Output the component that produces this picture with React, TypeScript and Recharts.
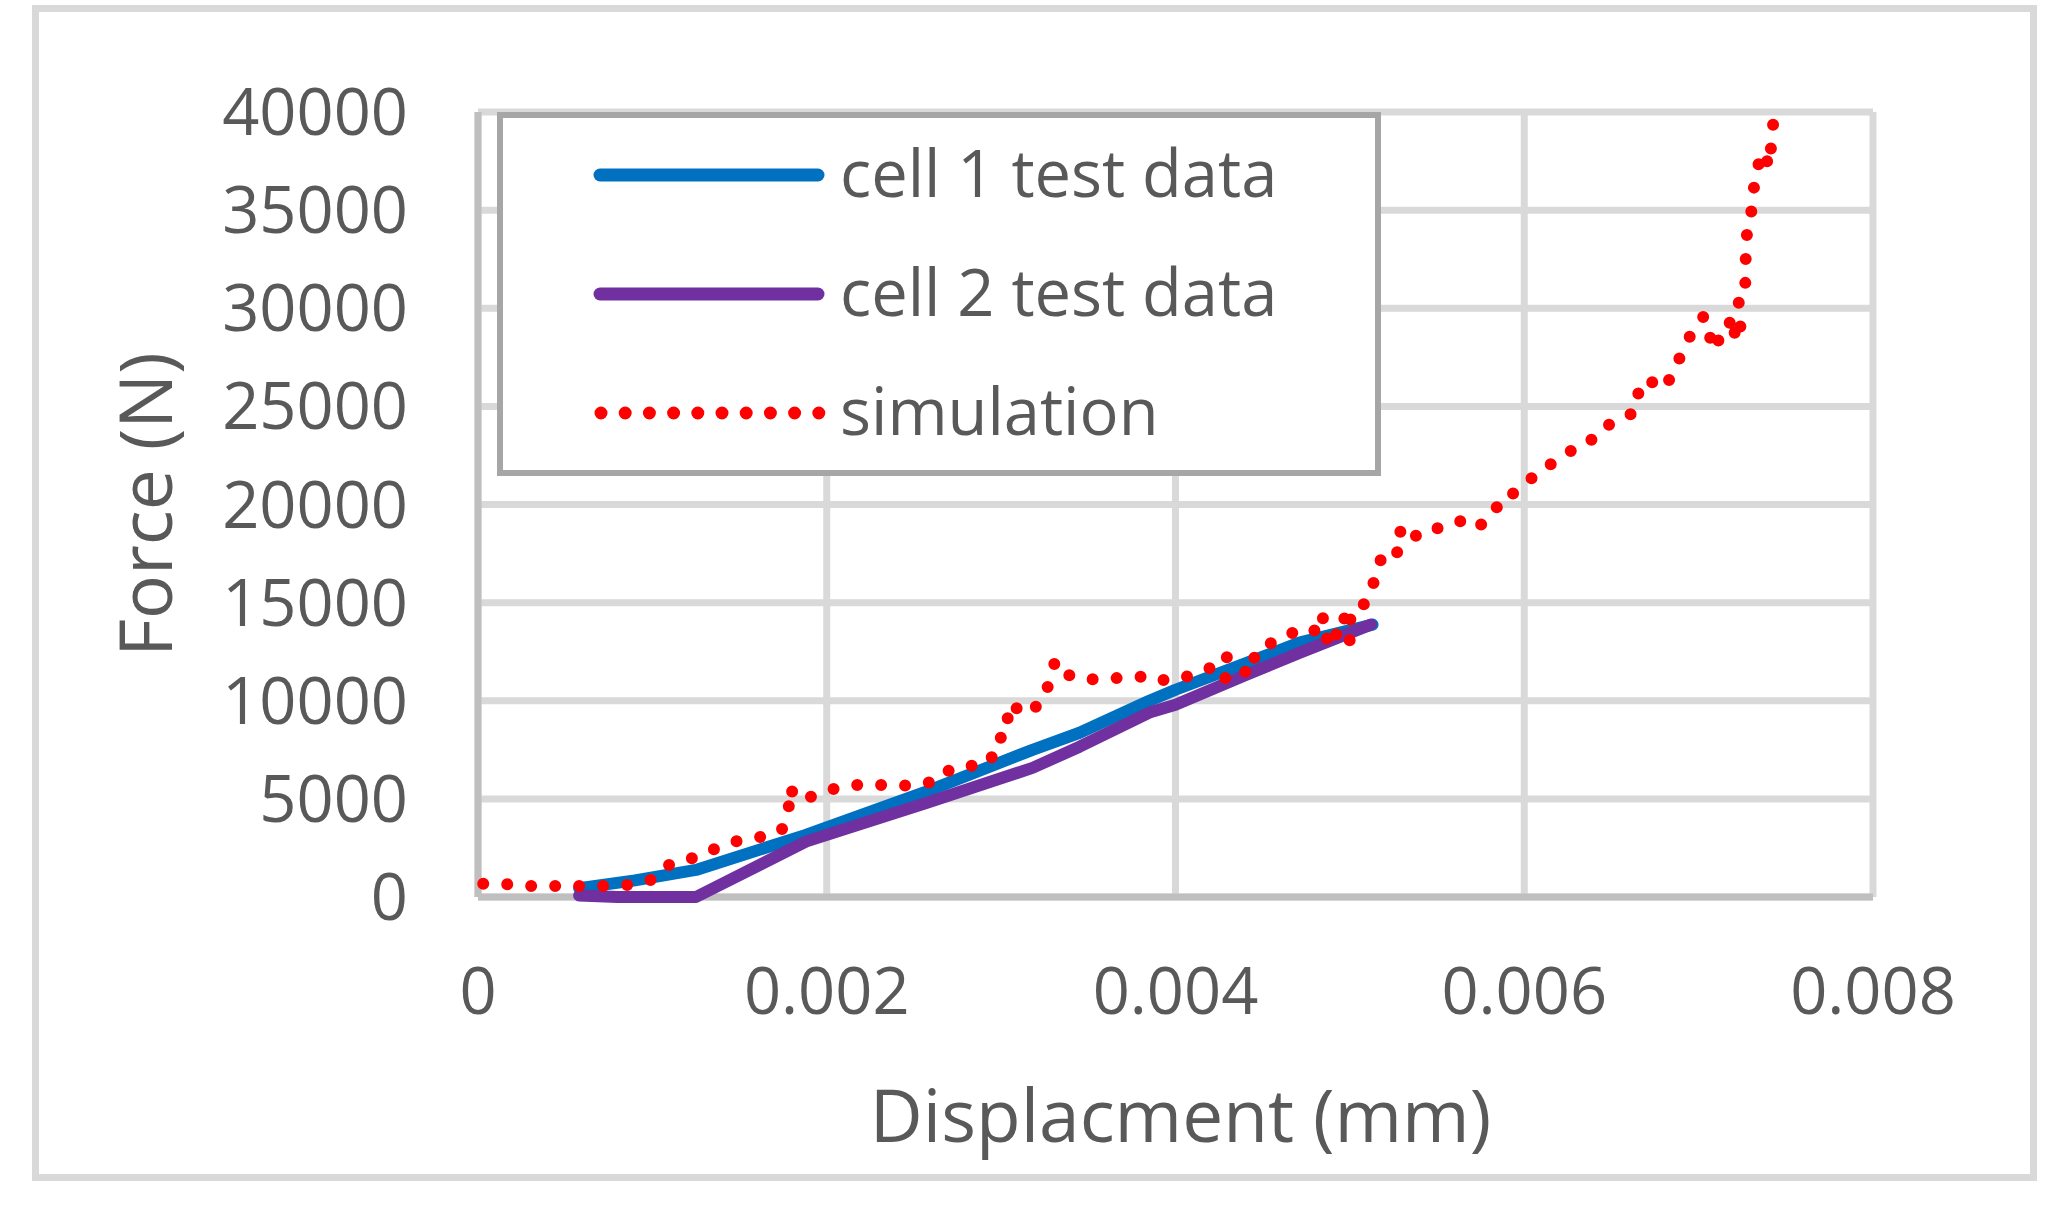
import { LineChart, Line, XAxis, YAxis, CartesianGrid, Legend, Label, ReferenceLine } from 'recharts';

// displacement (mm) / force (N)
const cell1Disp = [0.00058, 0.0009, 0.00125, 0.00188, 0.00257, 0.00318, 0.00345, 0.00385, 0.004, 0.0044, 0.00471, 0.00513];
const cell1Force = [450, 850, 1380, 3160, 5370, 7500, 8370, 10000, 10560, 11900, 12960, 13880];

const cell2Disp = [0.00058, 0.0008, 0.00125, 0.00188, 0.00257, 0.00318, 0.00345, 0.00385, 0.004, 0.0044, 0.00471, 0.00512];
const cell2Force = [80, 0, 0, 2820, 4790, 6580, 7660, 9400, 9800, 11300, 12440, 13880];

const simDisp = [
  0.00003, 0.00009, 0.00017, 0.00031, 0.00045, 0.00058, 0.00072, 0.00086, 0.00099, 0.00107,
  0.00116, 0.00125, 0.00137, 0.00149, 0.00162, 0.00174, 0.00178, 0.00179, 0.00182, 0.00188,
  0.00199, 0.00212, 0.00224, 0.00238, 0.00251, 0.00264, 0.00271, 0.00281, 0.00294, 0.00297,
  0.00303, 0.00304, 0.00306, 0.00312, 0.00323, 0.00328, 0.00331, 0.00338, 0.00348, 0.00357,
  0.00371, 0.00383, 0.00387, 0.00394, 0.00407, 0.0042, 0.00427, 0.00431, 0.00429, 0.00435,
  0.00442, 0.00446, 0.00452, 0.00455, 0.00462, 0.0047, 0.00479, 0.00485, 0.00483, 0.00487,
  0.0049, 0.00493, 0.00497, 0.005, 0.00502, 0.00499, 0.00506, 0.00512, 0.00515, 0.00518,
  0.00524, 0.00528, 0.00529, 0.00534, 0.00542, 0.00555, 0.00567, 0.00571, 0.00575, 0.00578,
  0.00584, 0.00587, 0.00593, 0.00602, 0.00609, 0.00614, 0.00624, 0.00631, 0.00638, 0.00642,
  0.00653, 0.00664, 0.00666, 0.0067, 0.00674, 0.00677, 0.00683, 0.00689, 0.00695, 0.00703,
  0.00706, 0.00709, 0.0071, 0.00713, 0.00716, 0.0072, 0.00721, 0.00724, 0.00723, 0.00726,
  0.00727, 0.00727, 0.00728, 0.00731, 0.00732, 0.00733, 0.00735, 0.00738, 0.0074, 0.00742,
  0.00743,
];
const simForce = [
  680, 660, 650, 560, 560, 560, 560, 610, 870, 1530,
  1890, 2000, 2500, 2860, 3060, 3380, 4330, 5600, 5000, 5000,
  5410, 5660, 5760, 5660, 5710, 5930, 6530, 6650, 6890, 8060,
  8180, 9400, 9910, 9300, 9850, 11000, 12040, 11330, 11070, 11120,
  11170, 11240, 11290, 11020, 11240, 11680, 10970, 11440, 12240, 12000,
  11280, 12400, 12550, 12980, 13260, 13570, 13470, 14440, 13420, 13160,
  13830, 13210, 14230, 13030, 13880, 14340, 14690, 15360, 16600, 17240,
  17800, 17500, 18670, 18110, 18720, 18830, 19290, 19030, 18930, 19440,
  19810, 20420, 20510, 21220, 21580, 21990, 22550, 23010, 23230, 23780,
  24250, 24740, 26020, 25870, 26290, 25920, 26330, 27450, 28570, 29610,
  28590, 28160, 27860, 28980, 28990, 29590, 28320, 29080, 30300, 30360,
  31580, 32870, 34140, 35220, 36490, 37000, 37500, 37980, 37210, 38490,
  39750,
];

const xTicks = [0, 0.002, 0.004, 0.006, 0.008];
const yTicks = [0, 5000, 10000, 15000, 20000, 25000, 30000, 35000, 40000];

const toPoints = (xs: number[], ys: number[]) => xs.map((x, i) => ({ x, y: ys[i] }));
const cell1 = toPoints(cell1Disp, cell1Force);
const cell2 = toPoints(cell2Disp, cell2Force);
const sim = toPoints(simDisp, simForce);

const FONT = "'Open Sans', sans-serif";
const TEXT = '#595959';

function LegendBox({ payload }: any) {
  const rows = payload || [];
  return (
    <svg width={884} height={364} style={{ display: 'block' }}>
      <rect x={3} y={3} width={878} height={358} fill="#fff" stroke="#a6a6a6" strokeWidth={6} />
      {rows.map((entry: any, i: number) => {
        const y = 63 + i * 119;
        const dotted = entry.value === 'simulation';
        return (
          <g key={entry.value}>
            <line
              x1={dotted ? 104 : 103}
              x2={dotted ? 322 : 321}
              y1={y}
              y2={y}
              stroke={entry.color}
              strokeWidth={13}
              strokeLinecap="round"
              strokeDasharray={dotted ? '0 24.2' : undefined}
            />
            <text x={343} y={y + 22} fontSize={65} fontFamily={FONT} fill={TEXT}>
              {entry.value}
            </text>
          </g>
        );
      })}
    </svg>
  );
}

export default function App() {
  return (
    <div style={{ position: 'absolute', left: 0, top: 0, width: 2068, height: 1227, background: '#fff' }}>
      <div
        style={{
          position: 'absolute',
          left: 32,
          top: 5,
          width: 2005,
          height: 1176,
          boxSizing: 'border-box',
          border: '7px solid #d9d9d9',
        }}
      />
      <LineChart width={2068} height={1227} margin={{ top: 112, right: 195, bottom: 0, left: 0 }}>
        <CartesianGrid stroke="#d9d9d9" strokeWidth={7} />
        <XAxis
          type="number"
          dataKey="x"
          domain={[0, 0.008]}
          ticks={xTicks}
          tickFormatter={(v: number) => String(v)}
          height={330}
          tickSize={0}
          tickMargin={71}
          axisLine={false}
          tick={{ fill: TEXT, fontSize: 65, fontFamily: FONT }}
        >
          <Label
            content={({ viewBox }: any) => (
              <text
                x={viewBox.x + viewBox.width / 2 + 5}
                y={viewBox.y + 245}
                textAnchor="middle"
                fontSize={73}
                fontFamily={FONT}
                fill={TEXT}
              >
                Displacment (mm)
              </text>
            )}
          />
        </XAxis>
        <YAxis
          type="number"
          domain={[0, 40000]}
          ticks={yTicks}
          width={478}
          tickSize={0}
          tickMargin={70}
          axisLine={false}
          tick={{ fill: TEXT, fontSize: 65, fontFamily: FONT }}
        >
          <Label
            content={({ viewBox }: any) => {
              const cx = 172;
              const cy = viewBox.y + viewBox.height / 2;
              return (
                <text
                  x={cx}
                  y={cy}
                  transform={`rotate(-90, ${cx}, ${cy})`}
                  textAnchor="middle"
                  fontSize={73}
                  fontFamily={FONT}
                  fill={TEXT}
                >
                  Force (N)
                </text>
              );
            }}
          />
        </YAxis>
        {/* axis lines drawn as reference lines so the series sit on top of them */}
        <ReferenceLine y={0} stroke="#bfbfbf" strokeWidth={7} />
        <ReferenceLine x={0} stroke="#bfbfbf" strokeWidth={7} />
        <Legend
          layout="vertical"
          align="center"
          verticalAlign="middle"
          content={<LegendBox />}
          wrapperStyle={{ position: 'absolute', left: 497, top: 112, width: 884, height: 364 }}
        />
        <Line
          data={cell1}
          dataKey="y"
          name="cell 1 test data"
          type="linear"
          stroke="#0070c0"
          strokeWidth={12}
          strokeLinecap="round"
          strokeLinejoin="round"
          dot={false}
          activeDot={false}
          isAnimationActive={false}
        />
        <Line
          data={cell2}
          dataKey="y"
          name="cell 2 test data"
          type="linear"
          stroke="#7030a0"
          strokeWidth={12}
          strokeLinecap="round"
          strokeLinejoin="round"
          dot={false}
          activeDot={false}
          isAnimationActive={false}
        />
        <Line
          data={sim}
          dataKey="y"
          name="simulation"
          type="linear"
          stroke="#ff0000"
          strokeWidth={12}
          strokeLinecap="round"
          strokeDasharray="0 24"
          dot={false}
          activeDot={false}
          isAnimationActive={false}
        />
      </LineChart>
    </div>
  );
}
